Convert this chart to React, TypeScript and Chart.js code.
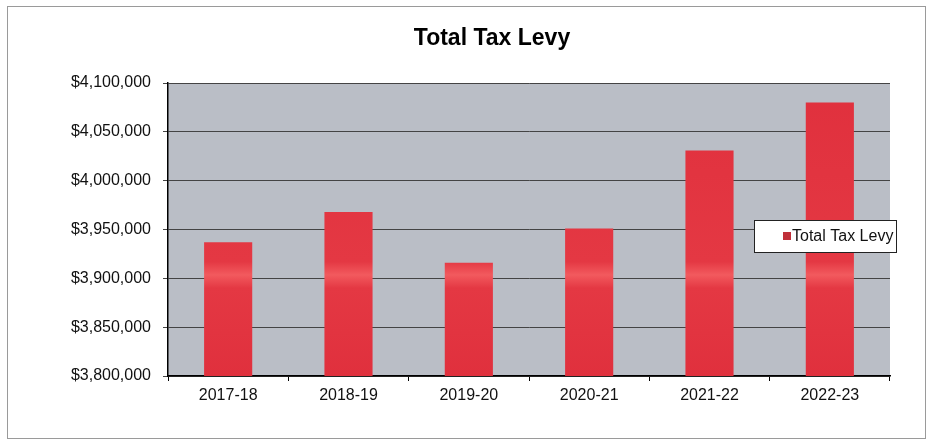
import React, { useEffect, useRef } from "react";
import { Chart, registerables } from "chart.js";

Chart.register(...registerables);

const categories: string[] = ["2017-18", "2018-19", "2019-20", "2020-21", "2021-22", "2022-23"];
const levyValues: number[] = [3937000, 3968000, 3916000, 3951000, 4031000, 4080000];
const seriesLabel = "Total Tax Levy";
const chartTitle = "Total Tax Levy";
const yMin = 3800000;
const yMax = 4100000;
const yStep = 50000;

const FONT = "Arial, 'Liberation Sans', sans-serif";

const decorPlugin = {
  id: "decor",
  beforeDraw(chart: any) {
    const { ctx, chartArea } = chart;
    ctx.save();
    ctx.fillStyle = "#ffffff";
    ctx.fillRect(0, 0, chart.width, chart.height);
    ctx.strokeStyle = "#9a9a9a";
    ctx.lineWidth = 1;
    ctx.strokeRect(7.5, 6.5, 918, 432);
    ctx.fillStyle = "#babec6";
    ctx.fillRect(chartArea.left, chartArea.top, chartArea.right - chartArea.left, chartArea.bottom - chartArea.top);
    ctx.restore();
  },
  afterDraw(chart: any) {
    const { ctx } = chart;
    ctx.save();
    // title
    ctx.fillStyle = "#000";
    ctx.font = `bold 23px ${FONT}`;
    ctx.textAlign = "center";
    ctx.textBaseline = "alphabetic";
    ctx.fillText(chartTitle, 492, 45);
    // legend
    const lx = 754.5, ly = 220.5, lw = 142, lh = 32;
    ctx.fillStyle = "#ffffff";
    ctx.fillRect(lx, ly, lw, lh);
    ctx.strokeStyle = "#222";
    ctx.lineWidth = 1;
    ctx.strokeRect(lx, ly, lw, lh);
    ctx.fillStyle = "#c0303a";
    ctx.fillRect(783, 232, 8, 8);
    ctx.fillStyle = "#111";
    ctx.font = `16px ${FONT}`;
    ctx.textAlign = "left";
    ctx.textBaseline = "middle";
    ctx.fillText(seriesLabel, 792, 237);
    ctx.restore();
  },
};

export default function App() {
  const ref = useRef<HTMLCanvasElement | null>(null);
  useEffect(() => {
    if (!ref.current) return;
    const chart = new Chart(ref.current, {
      type: "bar",
      data: {
        labels: categories,
        datasets: [
          {
            label: seriesLabel,
            data: levyValues,
            backgroundColor: (c: any) => {
              const area = c.chart.chartArea;
              if (!area) return "#e2323f";
              const g = c.chart.ctx.createLinearGradient(0, area.bottom, 0, area.top);
              g.addColorStop(0, "#e0303d");
              g.addColorStop(0.3, "#e43843");
              g.addColorStop(0.345, "#f25a5e");
              g.addColorStop(0.39, "#e43843");
              g.addColorStop(1, "#e0303d");
              return g;
            },
            borderWidth: 0,
            categoryPercentage: 0.8,
            barPercentage: 0.5,
          },
        ],
      },
      options: {
        animation: false,
        responsive: false,
        maintainAspectRatio: false,
        layout: { padding: { left: 10, right: 40, top: 83, bottom: 10 } },
        plugins: {
          legend: { display: false },
          title: { display: false },
          tooltip: { enabled: false },
        },
        scales: {
          x: {
            afterFit: (s: any) => {
              s.height = 55;
            },
            grid: { drawOnChartArea: false, drawTicks: true, tickLength: 5, color: "#000" },
            border: { color: "#000", width: 1.5 },
            ticks: { color: "#111", font: { family: FONT, size: 16 }, padding: 5, maxRotation: 0 },
          },
          y: {
            min: yMin,
            max: yMax,
            afterFit: (s: any) => {
              s.width = 158;
            },
            grid: { color: "#444", lineWidth: 1, tickLength: 5, drawTicks: true },
            border: { color: "#000", width: 1.5 },
            ticks: {
              stepSize: yStep,
              color: "#111",
              font: { family: FONT, size: 16 },
              padding: 12,
              callback: (v: any) => "$" + Number(v).toLocaleString("en-US"),
            },
          },
        },
      },
      plugins: [decorPlugin],
    });
    return () => chart.destroy();
  }, []);
  return (
    <div style={{ position: "absolute", left: 0, top: 0, width: 930, height: 441 }}>
      <canvas ref={ref} width={930} height={441} style={{ width: 930, height: 441, display: "block" }} />
    </div>
  );
}
